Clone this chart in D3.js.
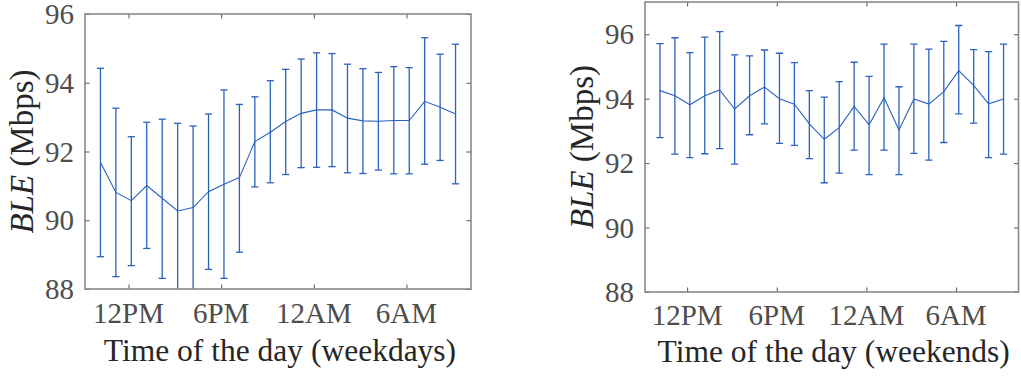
<!DOCTYPE html>
<html>
<head>
<meta charset="utf-8">
<script src="https://cdn.jsdelivr.net/npm/d3@7"></script>
<style>
  html, body { margin: 0; padding: 0; background: #fff; }
  svg { display: block; }
  text { font-family: "Liberation Serif", "DejaVu Serif", serif; }
</style>
</head>
<body>
<svg id="chart" width="1021" height="376"></svg>
<script>
// ---- data ----
const hourIndex = d3.range(24);
const xTickValues = [1.82, 7.82, 13.82, 19.82];
const xTickLabels = ["12PM", "6PM", "12AM", "6AM"];
const yTickValues = [88, 90, 92, 94, 96];

const weekdayMean  = [91.69, 90.81, 90.57, 91.01, 90.64, 90.27, 90.37, 90.83, 91.05, 91.24, 92.29, 92.56, 92.87, 93.11, 93.21, 93.21, 92.97, 92.89, 92.88, 92.90, 92.90, 93.46, 93.29, 93.09];
const weekdayUpper = [94.42, 93.26, 92.43, 92.85, 92.94, 92.82, 92.74, 93.09, 93.79, 93.37, 93.59, 94.06, 94.39, 94.69, 94.87, 94.85, 94.54, 94.41, 94.30, 94.47, 94.44, 95.31, 94.83, 95.12];
const weekdayLower = [88.94, 88.36, 88.68, 89.18, 88.31, 87.70, 87.80, 88.57, 88.31, 89.07, 90.97, 91.09, 91.33, 91.53, 91.54, 91.56, 91.38, 91.36, 91.46, 91.35, 91.35, 91.63, 91.74, 91.06];

const weekendMean  = [94.25, 94.09, 93.81, 94.09, 94.27, 93.68, 94.09, 94.36, 94.00, 93.83, 93.22, 92.74, 93.10, 93.76, 93.19, 94.03, 93.03, 93.99, 93.83, 94.22, 94.87, 94.41, 93.84, 93.99];
const weekendUpper = [95.71, 95.89, 95.43, 95.91, 96.08, 95.36, 95.33, 95.51, 95.41, 95.12, 94.25, 94.05, 94.53, 95.13, 94.69, 95.69, 94.37, 95.69, 95.54, 95.78, 96.27, 95.52, 95.46, 95.69];
const weekendLower = [92.79, 92.28, 92.17, 92.29, 92.45, 91.97, 92.88, 93.22, 92.61, 92.55, 92.14, 91.39, 91.69, 92.40, 91.64, 92.40, 91.64, 92.30, 92.09, 92.64, 93.53, 93.24, 92.17, 92.28];

// ---- style ----
const BLUE = "#2a62bd";
const FRAME = "#8a8a8a";
const TICKTXT = "#4d4d4d";
const LABELTXT = "#262626";

const svg = d3.select("#chart");

function panel(cfg) {
  const { left, right, top, bottom, yDomain, mean, upper, lower, xlabel, ylabelX, xlabelY, tickY } = cfg;
  const x = d3.scaleLinear().domain([-1, 24]).range([left, right]);
  const y = d3.scaleLinear().domain(yDomain).range([bottom, top]);
  const g = svg.append("g");

  const clipId = "clip" + Math.round(left);
  svg.append("clipPath").attr("id", clipId)
    .append("rect").attr("x", left).attr("y", top).attr("width", right - left).attr("height", bottom - top);

  const plot = g.append("g").attr("clip-path", `url(#${clipId})`);
  const cap = 3.6;
  const bars = plot.selectAll("g.eb").data(hourIndex).enter().append("g");
  bars.append("line")
    .attr("x1", i => x(i)).attr("x2", i => x(i))
    .attr("y1", i => y(lower[i])).attr("y2", i => y(upper[i]))
    .attr("stroke", BLUE).attr("stroke-width", 1.3);
  bars.append("line")
    .attr("x1", i => x(i) - cap).attr("x2", i => x(i) + cap)
    .attr("y1", i => y(upper[i])).attr("y2", i => y(upper[i]))
    .attr("stroke", BLUE).attr("stroke-width", 1.3);
  bars.append("line")
    .attr("x1", i => x(i) - cap).attr("x2", i => x(i) + cap)
    .attr("y1", i => y(lower[i])).attr("y2", i => y(lower[i]))
    .attr("stroke", BLUE).attr("stroke-width", 1.3);

  plot.append("path")
    .datum(hourIndex)
    .attr("fill", "none").attr("stroke", BLUE).attr("stroke-width", 1.1)
    .attr("d", d3.line().x(i => x(i)).y(i => y(mean[i])));

  // ticks (inward, all four sides)
  const tl = 4.5;
  const xAxisB = d3.axisBottom(x).tickValues(xTickValues).tickSize(-tl).tickFormat("");
  const xAxisT = d3.axisTop(x).tickValues(xTickValues).tickSize(-tl).tickFormat("");
  const yAxisL = d3.axisLeft(y).tickValues(yTickValues).tickSize(-tl).tickFormat("");
  const yAxisR = d3.axisRight(y).tickValues(yTickValues).tickSize(-tl).tickFormat("");
  [[xAxisB, `translate(0,${bottom})`], [xAxisT, `translate(0,${top})`],
   [yAxisL, `translate(${left},0)`], [yAxisR, `translate(${right},0)`]].forEach(([ax, tr]) => {
    const a = g.append("g").attr("transform", tr).call(ax);
    a.select(".domain").remove();
    a.selectAll("line").attr("stroke", "#555").attr("stroke-width", 1);
  });

  g.append("rect").attr("x", left).attr("y", top)
    .attr("width", right - left).attr("height", bottom - top)
    .attr("fill", "none").attr("stroke", FRAME).attr("stroke-width", 1.6);

  // tick labels
  g.selectAll("text.xt").data(xTickValues).enter().append("text")
    .attr("x", d => x(d)).attr("y", tickY)
    .attr("text-anchor", "middle")
    .attr("font-size", 29).attr("fill", TICKTXT)
    .text((d, i) => xTickLabels[i]);
  g.selectAll("text.yt").data(yTickValues).enter().append("text")
    .attr("x", left - 11).attr("y", d => y(d)).attr("dy", "0.35em")
    .attr("text-anchor", "end")
    .attr("font-size", 29).attr("fill", TICKTXT)
    .text(d => d);

  // axis labels
  g.append("text")
    .attr("x", (left + right) / 2 + 2).attr("y", xlabelY)
    .attr("text-anchor", "middle")
    .attr("font-size", 31.5).attr("fill", LABELTXT)
    .text(xlabel);
  const yl = g.append("text")
    .attr("transform", `translate(${ylabelX},${(top + bottom) / 2}) rotate(-90)`)
    .attr("text-anchor", "middle")
    .attr("font-size", 33).attr("fill", LABELTXT);
  yl.append("tspan").attr("font-style", "italic").text("BLE");
  yl.append("tspan").text(" (Mbps)");
}

panel({
  left: 85, right: 471, top: 14, bottom: 289, yDomain: [88, 96],
  mean: weekdayMean, upper: weekdayUpper, lower: weekdayLower,
  xlabel: "Time of the day (weekdays)", ylabelX: 33, xlabelY: 361, tickY: 323
});
panel({
  left: 645, right: 1018.5, top: 2, bottom: 292, yDomain: [88, 97],
  mean: weekendMean, upper: weekendUpper, lower: weekendLower,
  xlabel: "Time of the day (weekends)", ylabelX: 593, xlabelY: 362, tickY: 325
});
</script>
</body>
</html>
